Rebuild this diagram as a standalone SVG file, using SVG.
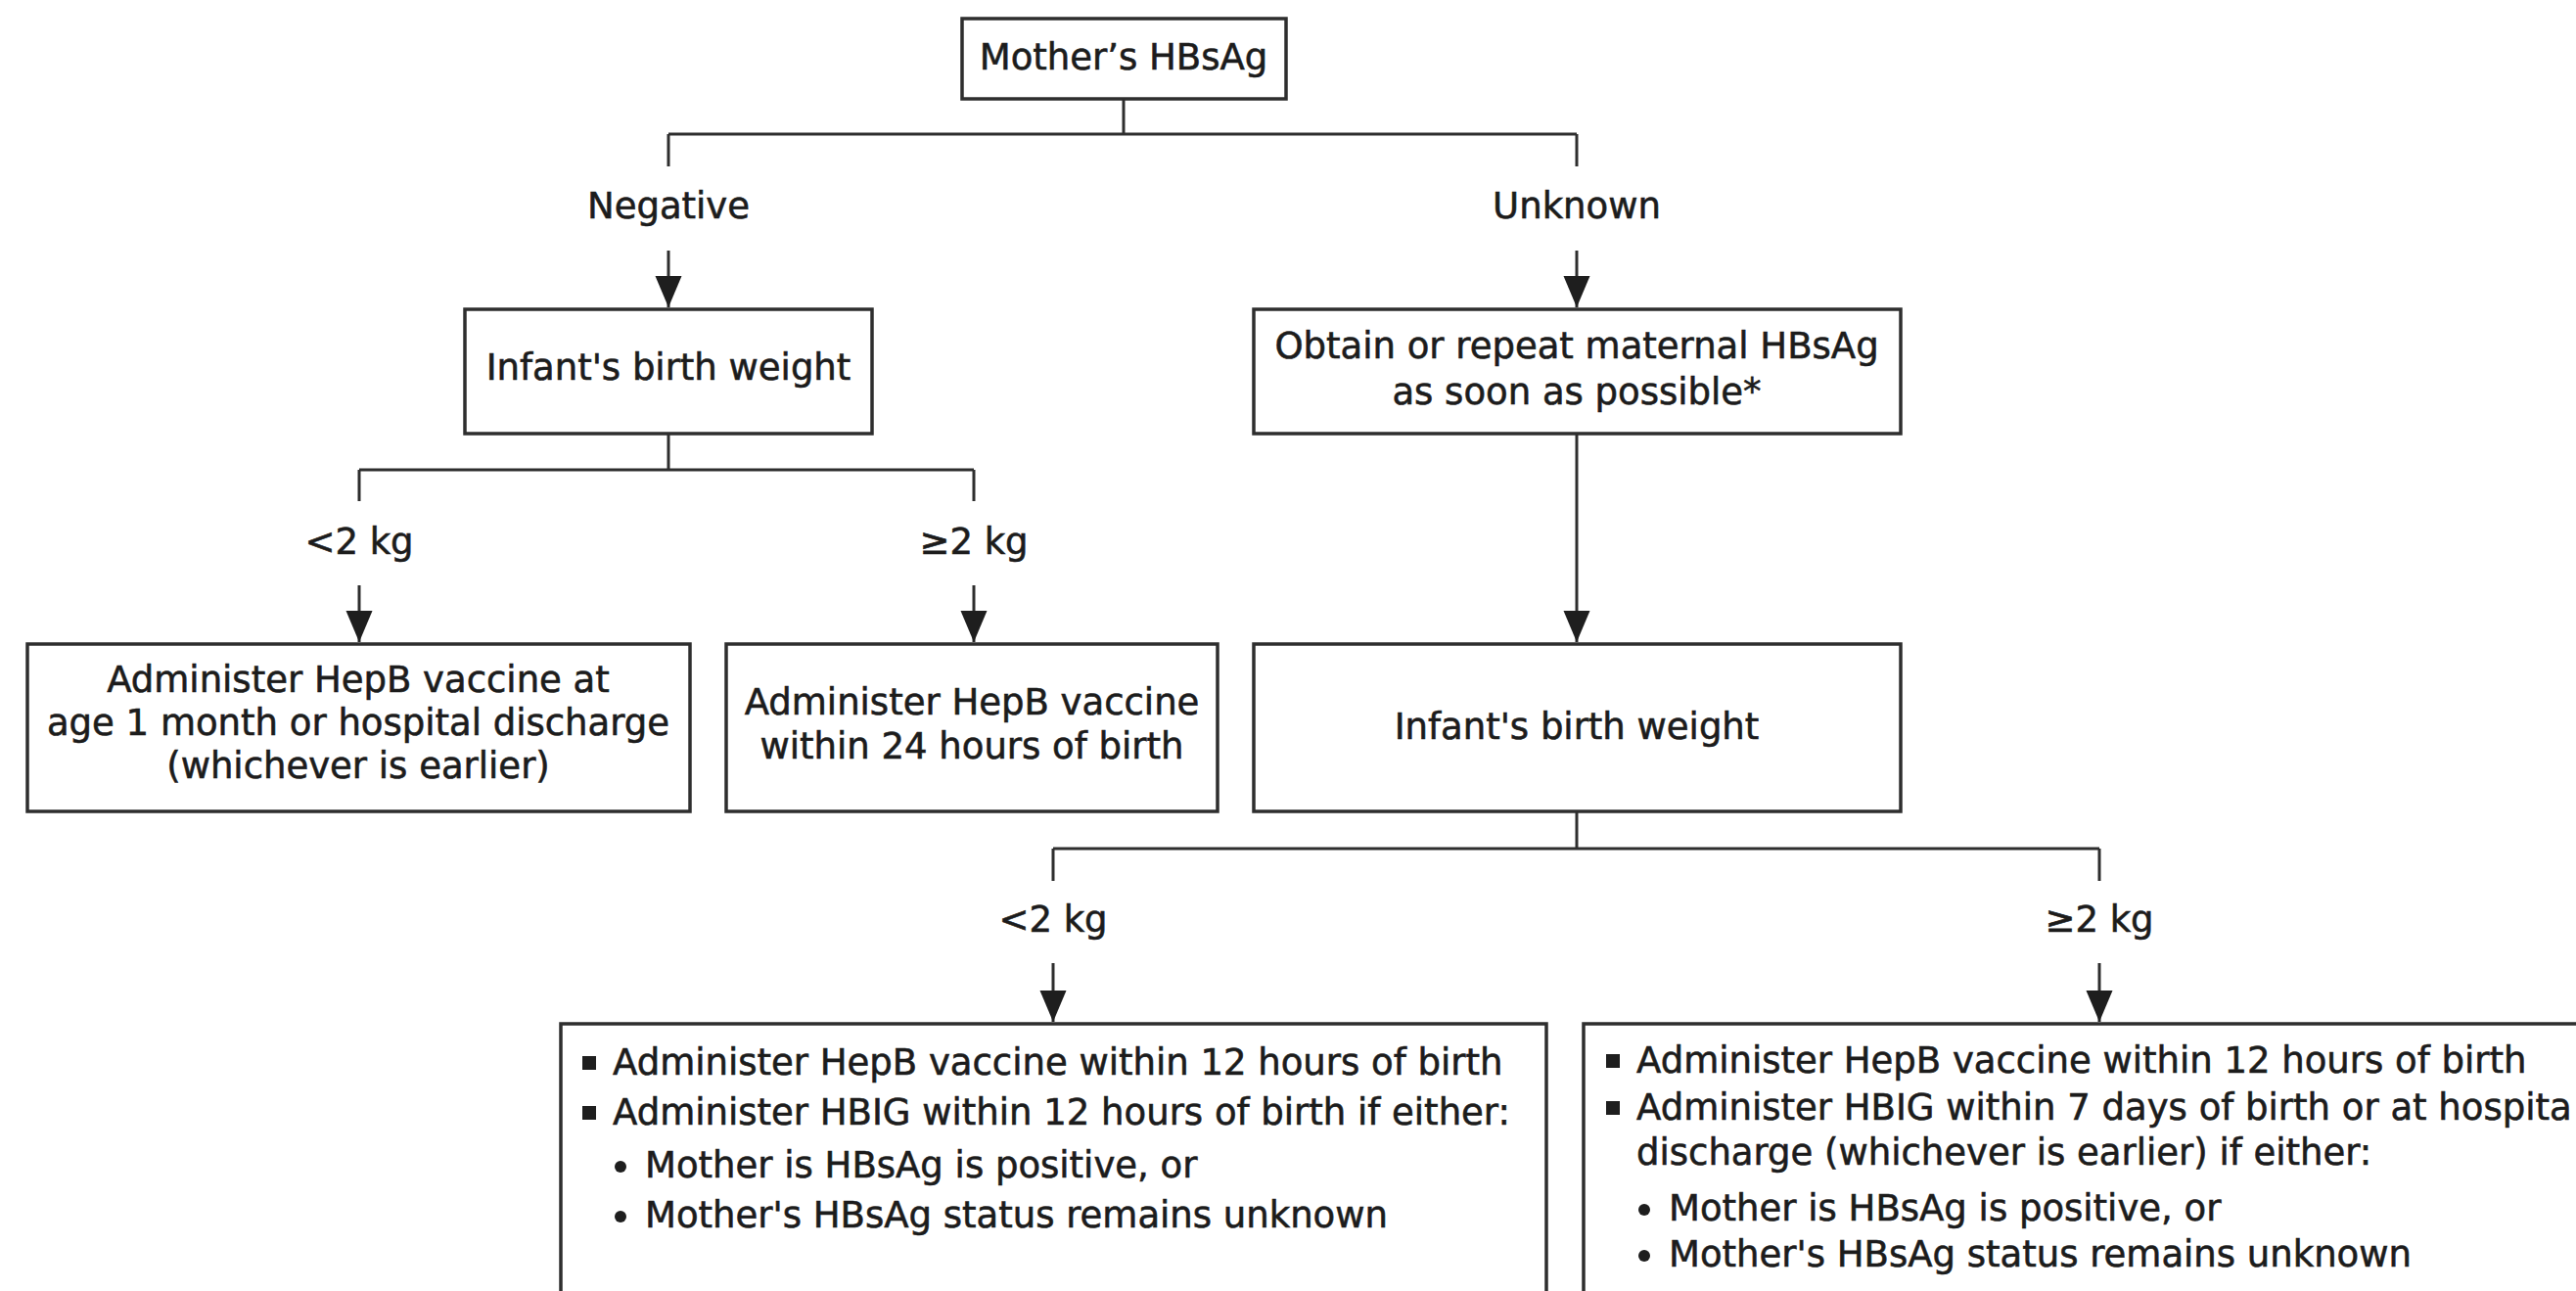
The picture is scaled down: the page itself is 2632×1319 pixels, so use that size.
<svg xmlns="http://www.w3.org/2000/svg" width="2632" height="1319" viewBox="0 0 2632 1319">
<style>
.box{fill:#fff;stroke:#2e2e2e;stroke-width:3.5}
.ln{fill:none;stroke:#2e2e2e;stroke-width:3}
text{font-family:"DejaVu Sans",Verdana,sans-serif;font-size:37px;fill:#1c1c1c;stroke:#1c1c1c;stroke-width:0.6}
.c{text-anchor:middle}
.sq{fill:#1e1e1e}
</style>
<defs>
<marker id="ah" markerUnits="userSpaceOnUse" markerWidth="34" markerHeight="28" refX="32" refY="13.5" orient="auto" viewBox="0 0 34 28">
<path d="M0,0 L32,13.5 L0,27 Z" fill="#1e1e1e"/>
</marker>
</defs>
<rect width="2632" height="1319" fill="#fff"/>
<g id="connectors">
<path class="ln" d="M1148,101 V137 M683,137 H1611 M683,137 V170 M1611,137 V170"/>
<line class="ln" x1="683" y1="256" x2="683" y2="314" marker-end="url(#ah)"/>
<line class="ln" x1="1611" y1="256" x2="1611" y2="314" marker-end="url(#ah)"/>
<path class="ln" d="M683,443 V480 M367,480 H995 M367,480 V512 M995,480 V512"/>
<line class="ln" x1="367" y1="598" x2="367" y2="656" marker-end="url(#ah)"/>
<line class="ln" x1="995" y1="598" x2="995" y2="656" marker-end="url(#ah)"/>
<line class="ln" x1="1611" y1="443" x2="1611" y2="656" marker-end="url(#ah)"/>
<path class="ln" d="M1611,829 V867 M1076,867 H2145 M1076,867 V900 M2145,867 V900"/>
<line class="ln" x1="1076" y1="984" x2="1076" y2="1044" marker-end="url(#ah)"/>
<line class="ln" x1="2145" y1="984" x2="2145" y2="1044" marker-end="url(#ah)"/>
<text class="c" x="683" y="223">Negative</text>
<text class="c" x="1611" y="223">Unknown</text>
<text class="c" x="367" y="566">&lt;2 kg</text>
<text class="c" x="995" y="566">≥2 kg</text>
<text class="c" x="1076" y="952">&lt;2 kg</text>
<text class="c" x="2145" y="952">≥2 kg</text>
</g>
<g id="mother">
<rect class="box" x="983" y="19" width="331" height="82"/>
<text class="c" x="1148" y="71">Mother’s HBsAg</text>
</g>
<g id="weight-neg">
<rect class="box" x="475" y="316" width="416" height="127"/>
<text class="c" x="683" y="388">Infant's birth weight</text>
</g>
<g id="obtain">
<rect class="box" x="1281" y="316" width="661" height="127"/>
<text class="c" x="1611" y="366">Obtain or repeat maternal HBsAg</text>
<text class="c" x="1611" y="413">as soon as possible*</text>
</g>
<g id="neg-lt2">
<rect class="box" x="28" y="658" width="677" height="171"/>
<text class="c" x="366" y="707">Administer HepB vaccine at</text>
<text class="c" x="366" y="751">age 1 month or hospital discharge</text>
<text class="c" x="366" y="795">(whichever is earlier)</text>
</g>
<g id="neg-ge2">
<rect class="box" x="742" y="658" width="502" height="171"/>
<text class="c" x="993" y="730">Administer HepB vaccine</text>
<text class="c" x="993" y="775">within 24 hours of birth</text>
</g>
<g id="weight-unk">
<rect class="box" x="1281" y="658" width="661" height="171"/>
<text class="c" x="1611" y="755">Infant's birth weight</text>
</g>
<g id="unk-lt2">
<rect class="box" x="573" y="1046" width="1007" height="400"/>
<rect class="sq" x="595" y="1079" width="14" height="14"/>
<text x="626" y="1098">Administer HepB vaccine within 12 hours of birth</text>
<rect class="sq" x="595" y="1130" width="14" height="14"/>
<text x="626" y="1149">Administer HBIG within 12 hours of birth if either:</text>
<circle class="sq" cx="634" cy="1192" r="6"/>
<text x="659" y="1203">Mother is HBsAg is positive, or</text>
<circle class="sq" cx="634" cy="1243" r="6"/>
<text x="659" y="1254">Mother's HBsAg status remains unknown</text>
</g>
<g id="unk-ge2">
<rect class="box" x="1618" y="1046" width="1100" height="400"/>
<rect class="sq" x="1641" y="1077" width="14" height="14"/>
<text x="1672" y="1096">Administer HepB vaccine within 12 hours of birth</text>
<rect class="sq" x="1641" y="1125" width="14" height="14"/>
<text x="1672" y="1144">Administer HBIG within 7 days of birth or at hospita</text>
<text x="1672" y="1190">discharge (whichever is earlier) if either:</text>
<circle class="sq" cx="1680" cy="1236" r="6"/>
<text x="1705" y="1247">Mother is HBsAg is positive, or</text>
<circle class="sq" cx="1680" cy="1283" r="6"/>
<text x="1705" y="1294">Mother's HBsAg status remains unknown</text>
</g>
</svg>
